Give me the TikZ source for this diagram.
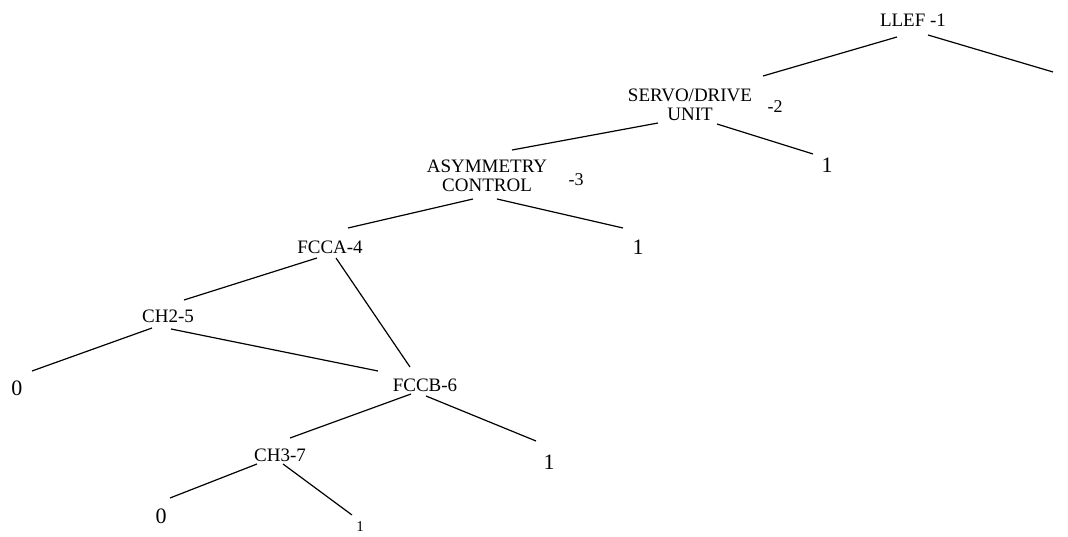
\documentclass[tikz,border=0pt]{standalone}
\usepackage{fontspec}
\setmainfont{Liberation Serif}
\usetikzlibrary{positioning}
\tikzset{
    gate/.style={inner sep=0pt,align=center,font=\fontsize{19}{19}\selectfont},
    leaf/.style={inner sep=0pt,font=\fontsize{22}{22}\selectfont},
    idx/.style={inner sep=0pt,font=\fontsize{18}{18}\selectfont},
    link/.style={draw,line width=1.2pt},
}

\begin{document}
\begin{tikzpicture}[x=1pt,y=-1pt]
    \useasboundingbox (0,0) rectangle (1068,537);
    \node[gate] (llef) at (913,20) {LLEF -1};
    \node[gate] (servo) at (690,105) {SERVO/DRIVE\\UNIT};
    \node[idx] (servon) at (775,107) {-2};
    \node[gate] (asym) at (487,176) {ASYMMETRY\\CONTROL};
    \node[idx] (asymn) at (576,180) {-3};
    \node[gate] (fcca) at (330,247) {FCCA-4};
    \node[gate] (ch2) at (168,316) {CH2-5};
    \node[gate] (fccb) at (425,385) {FCCB-6};
    \node[gate] (ch3) at (280,455) {CH3-7};
    \node[leaf] (one2) at (827,165) {1};
    \node[leaf] (one3) at (638,247) {1};
    \node[leaf] (zero5) at (17,388) {0};
    \node[leaf] (one6) at (549,462) {1};
    \node[leaf] (zero7) at (161,516) {0};
    \node[idx,font=\fontsize{15}{15}\selectfont] (one7) at (360,527) {1};
    \coordinate (free) at (1053,72);

    % top part
    \draw[link] ([shift={(-16,17)}]llef.center) -- ([shift={(73,-29)}]servo.center);
    \draw[link] ([shift={(15,15)}]llef.center) -- (free);
    \draw[link] ([shift={(-32,18)}]servo.center) -- ([shift={(25,-26)}]asym.center);
    \draw[link] ([shift={(27,19)}]servo.center) -- ([shift={(-14,-11)}]one2.center);
    \draw[link] ([shift={(-14,23)}]asym.center) -- ([shift={(18,-19)}]fcca.center);
    \draw[link] ([shift={(10,23)}]asym.center) -- ([shift={(-15,-19)}]one3.center);
    % lower part
    \draw[link] ([shift={(-13,11)}]fcca.center) -- ([shift={(16,-16)}]ch2.center);
    \draw[link] ([shift={(6,11)}]fcca.center) -- ([shift={(-15,-18)}]fccb.center);
    \draw[link] ([shift={(-16,12)}]ch2.center) -- ([shift={(15,-17)}]zero5.center);
    \draw[link] ([shift={(3,13)}]ch2.center) -- ([shift={(-47,-14)}]fccb.center);
    \draw[link] ([shift={(-14,9)}]fccb.center) -- ([shift={(10,-17)}]ch3.center);
    \draw[link] ([shift={(1,11)}]fccb.center) -- ([shift={(-13,-21)}]one6.center);
    \draw[link] ([shift={(-23,9)}]ch3.center) -- ([shift={(9,-18)}]zero7.center);
    \draw[link] ([shift={(3,9)}]ch3.center) -- ([shift={(-8,-12)}]one7.center);
\end{tikzpicture}
\end{document}
